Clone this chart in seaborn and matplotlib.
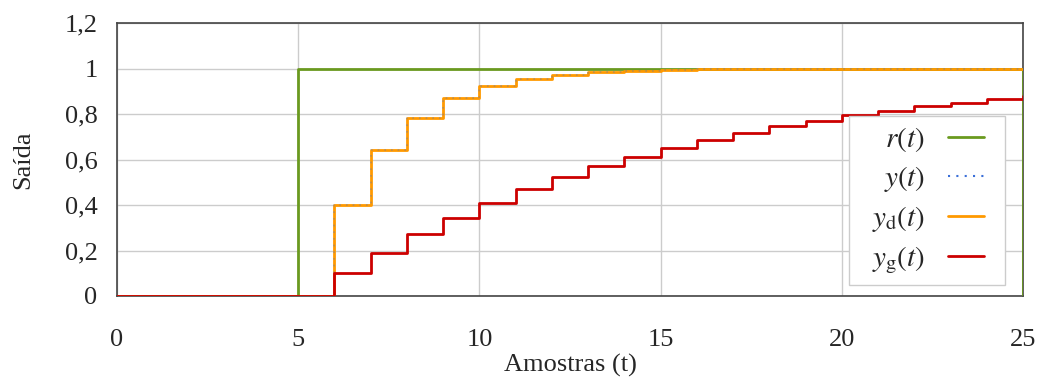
import matplotlib
matplotlib.use("Agg")
import matplotlib.pyplot as plt
import seaborn as sns
import pandas as pd
from matplotlib.ticker import FuncFormatter
from matplotlib.legend_handler import HandlerLine2D

t = list(range(26))
r = [0, 0, 0, 0, 0] + [1] * 20 + [0]
yd = [0, 0, 0, 0, 0, 0, 0.4, 0.64, 0.784, 0.8704, 0.9222, 0.9533, 0.972,
      0.9832, 0.9899, 0.994, 0.9964, 0.9978, 0.9987, 0.9992, 0.9995,
      0.9997, 0.9998, 0.9999, 0.9999, 1.0]
y = list(yd)
yg = [0, 0, 0, 0, 0, 0, 0.1, 0.19, 0.271, 0.344, 0.41, 0.469, 0.522, 0.57,
      0.613, 0.651, 0.686, 0.718, 0.746, 0.771, 0.794, 0.815, 0.833, 0.85,
      0.865, 0.878]

labels = [r"$r(t)$", r"$y(t)$", r"$y_{\mathrm{d}}(t)$", r"$y_{\mathrm{g}}(t)$"]
colors = ["#6a9a1f", "#3a6fd8", "#ff9900", "#cc0000"]

df = pd.DataFrame({"t": t, "r": r, "y": y, "yd": yd, "yg": yg})

sns.set_theme(style="whitegrid")
plt.rcParams["font.family"] = ["Liberation Serif", "DejaVu Serif"]
plt.rcParams["mathtext.fontset"] = "stix"

fig = plt.figure(figsize=(10.4, 3.79), dpi=100)
ax = fig.add_axes([117 / 1040, 1 - 296 / 379, (1023 - 117) / 1040, (296 - 23) / 379])

sns.lineplot(data=df, x="t", y="r", ax=ax, drawstyle="steps-post",
             color=colors[0], linewidth=2.0, label=labels[0], zorder=3)
sns.lineplot(data=df, x="t", y="yd", ax=ax, drawstyle="steps-post",
             color=colors[2], linewidth=2.0, label=labels[2], zorder=4)
sns.lineplot(data=df, x="t", y="y", ax=ax, drawstyle="steps-post",
             color=colors[1], linewidth=1.2, linestyle=(0, (1, 3)),
             label=labels[1], zorder=5, alpha=0.35)
sns.lineplot(data=df, x="t", y="yg", ax=ax, drawstyle="steps-post",
             color=colors[3], linewidth=2.0, label=labels[3], zorder=6)

ax.set_xlim(0, 25)
ax.set_ylim(0, 1.2)
ax.set_xticks([0, 5, 10, 15, 20, 25])
ax.set_yticks([0, 0.2, 0.4, 0.6, 0.8, 1.0, 1.2])
ax.yaxis.set_major_formatter(FuncFormatter(
    lambda v, p: ("%g" % round(v, 2)).replace(".", ",")))
ax.tick_params(axis="x", labelsize=19, pad=24, length=0)
ax.tick_params(axis="y", labelsize=19, pad=14, length=0)
ax.set_xlabel("Amostras (t)", fontsize=19, labelpad=2)
ax.set_ylabel("Saída", fontsize=19, labelpad=22)
ax.grid(True, color="#cccccc", linewidth=1.0)
for s in ax.spines.values():
    s.set_color("#444444")
    s.set_linewidth(1.2)


class ShortLine(HandlerLine2D):
    def create_artists(self, legend, orig_handle, xdescent, ydescent,
                       width, height, fontsize, trans):
        return super().create_artists(legend, orig_handle, xdescent,
                                      ydescent, width - 9, height,
                                      fontsize, trans)


handles, labs = ax.get_legend_handles_labels()
hmap = dict(zip(labs, handles))
leg_labels = [r"$\;\;\,$" + l for l in labels]
leg = ax.legend([hmap[l] for l in labels], leg_labels, loc="lower right",
                bbox_to_anchor=(0.98, 0.04), markerfirst=False,
                fontsize=21, frameon=True, fancybox=False,
                edgecolor="#cccccc", framealpha=1, handlelength=1.64,
                labelspacing=0.35, borderpad=0.3, handletextpad=0.8,
                borderaxespad=0,
                handler_map={matplotlib.lines.Line2D: ShortLine()})
leg.get_frame().set_linewidth(1.0)
for h in leg.get_lines():
    h.set_alpha(1)
    h.set_linewidth(2)
leg.get_lines()[1].set_linewidth(1.5)
leg.set_zorder(10)

fig.savefig("out.png", dpi=100)
